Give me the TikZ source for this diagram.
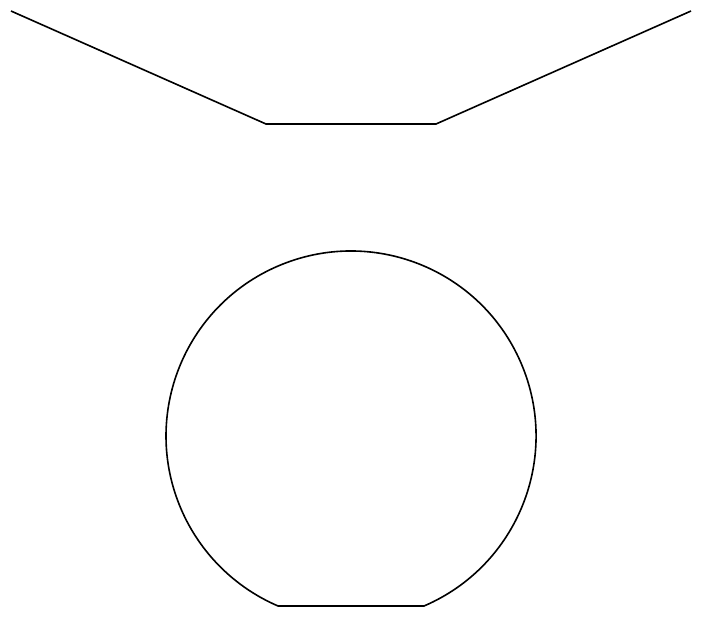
\documentclass[tikz,border=0pt]{standalone}
\begin{document}
\begin{tikzpicture}[x=1pt,y=-1pt,
  shapeline/.style={draw=black,line width=1.6pt,line join=miter}]
\useasboundingbox (0,0) rectangle (701,616);
\coordinate (p1) at (11,11);
\coordinate (p2) at (266,124);
\coordinate (p3) at (436,124);
\coordinate (p4) at (691,11);
\draw[shapeline] (p1) -- (p2) -- (p3) -- (p4);
% circle centre (351,436), r=185, cut by chord at y=606
\coordinate (cc) at (351,436);
\coordinate (cr) at (424,606);
\draw[shapeline] (cr) arc[start angle=66.77, end angle=-246.77, radius=185] -- cycle;
\end{tikzpicture}
\end{document}
